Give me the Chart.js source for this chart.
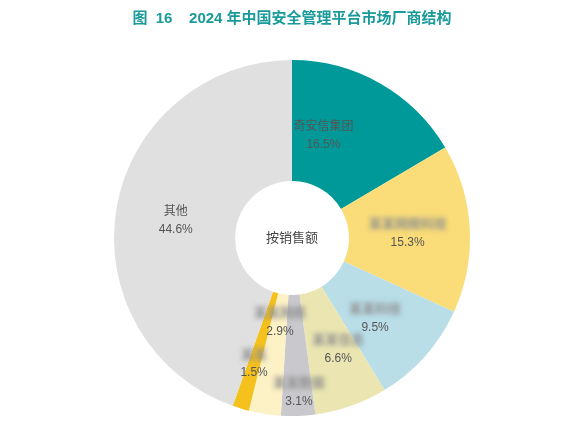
<!DOCTYPE html>
<html>
<head>
<meta charset="utf-8">
<script src="https://cdn.jsdelivr.net/npm/chart.js@4"></script>
<style>
  html, body { margin: 0; padding: 0; background: #fff; }
  #wrap { width: 579px; height: 429px; position: relative; }
</style>
</head>
<body>
<div id="wrap"><canvas id="shareChart"></canvas></div>
<script>
// 2024 年中国安全管理平台市场厂商结构（按销售额）
const vendors = ["奇安信集团", "某某网络科技", "某某科技", "某某信息", "某某数据", "某某网络", "某某", "其他"]
const shares = [16.5, 15.3, 9.5, 6.6, 3.1, 2.9, 1.5, 44.6]
const hiddenName = [false, true, true, true, true, true, true, false]
const colors = ["#009999", "#fadd78", "#b9dee8", "#ebe6b1", "#c9c9cd", "#fdf1c6", "#f5c11c", "#e0e0e0"]

const FONT = "'Liberation Sans', 'Noto Sans CJK SC', sans-serif"

// label placement: angle tweak (deg) and radius as share of outer radius
const labelAngle = [-12.6, 1, 2.5, -3, -0.6, -0.7, 0, -1.4]
const labelRadius = [0.6, 0.65, 0.65, 0.68, 0.87, 0.48, 0.74, 0.66]

const sliceLabels = {
  id: "sliceLabels",
  afterDatasetsDraw(chart) {
    const ctx = chart.ctx
    const meta = chart.getDatasetMeta(0)
    ctx.save()
    ctx.textAlign = "center"
    ctx.textBaseline = "middle"
    meta.data.forEach((arc, i) => {
      const a = (arc.startAngle + arc.endAngle) / 2 + labelAngle[i] * Math.PI / 180
      const r = arc.outerRadius * labelRadius[i]
      const x = arc.x + r * Math.cos(a)
      const y = arc.y + r * Math.sin(a)
      if (hiddenName[i]) {
        // names are masked in the source
        ctx.font = "bold 13px " + FONT
        ctx.filter = "blur(2.5px)"
        ctx.fillStyle = "#909090"
      } else {
        ctx.font = "12px " + FONT
        ctx.filter = "none"
        ctx.fillStyle = "#555"
      }
      ctx.fillText(vendors[i], x, y - 9)
      ctx.filter = "none"
      ctx.font = "12px " + FONT
      ctx.fillStyle = "#555"
      ctx.fillText(shares[i].toFixed(1) + "%", x, y + 9)
    })
    // centre text
    const c = meta.data[0]
    ctx.font = "13px " + FONT
    ctx.fillStyle = "#444"
    ctx.fillText("按销售额", c.x, c.y)
    // title
    ctx.font = "bold 15px " + FONT
    ctx.fillStyle = "#1a9a9a"
    ctx.fillText("图  16    2024 年中国安全管理平台市场厂商结构", c.x, 19)
    ctx.restore()
  },
}

const shareCtx = document.getElementById("shareChart")
if (shareCtx) {
  new Chart(shareCtx, {
    type: "doughnut",
    data: {
      labels: vendors,
      datasets: [
        {
          data: shares,
          backgroundColor: colors,
          borderWidth: 0,
        },
      ],
    },
    options: {
      responsive: true,
      maintainAspectRatio: false,
      animation: false,
      cutout: "32%",
      layout: {
        padding: { top: 60, bottom: 13, left: 5, right: 0 },
      },
      plugins: {
        legend: { display: false },
        tooltip: { enabled: false },
      },
    },
    plugins: [sliceLabels],
  })
}
</script>
</body>
</html>
